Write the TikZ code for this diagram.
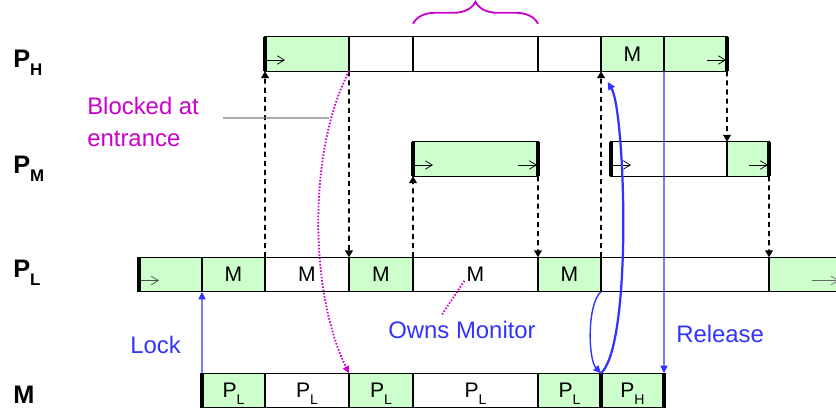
\documentclass[tikz,border=0pt]{standalone}
\usepackage{fontspec}
\setmainfont{Liberation Sans}
\usetikzlibrary{arrows.meta, positioning, calc, decorations.pathreplacing}
\definecolor{busygreen}{HTML}{CCFFCC}
\definecolor{lockblue}{HTML}{3333FF}
\definecolor{notemag}{HTML}{CC00CC}
\tikzset{
  cell/.style     = {draw, line width=0.8pt, outer sep=0pt, inner sep=0pt,
                     minimum height=0.86cm, text depth=0pt,
                     font=\fontsize{15}{15}\selectfont},
  span/.style     = {minimum width=#1*0.025cm},
  busy/.style     = {fill=busygreen},
  bar/.style      = {line width=2.2pt, line cap=butt},
  runtick/.style  = {-{Straight Barb[length=5pt,width=6pt]}, line width=0.5pt},
  wake/.style     = {-{Triangle[length=5pt,width=5.5pt]}, line width=1.3pt,
                     dash pattern=on 3.6pt off 2.9pt},
  monitor/.style  = {-{Triangle[length=5.5pt,width=5pt]}, line width=1pt, lockblue},
  note/.style     = {notemag, line width=1.3pt, dash pattern=on 1.1pt off 1.2pt},
  lead/.style     = {black!50, line width=0.8pt},
  rowlabel/.style = {anchor=base west, inner sep=0pt,
                     font=\fontsize{18}{18}\selectfont\bfseries},
  caption/.style  = {inner sep=0pt, font=\fontsize{17}{22.7}\selectfont},
}
\newcommand{\rowsub}[1]{\raisebox{-5.7pt}{\fontsize{12}{12}\selectfont #1}}
\newcommand{\cellsub}[1]{\raisebox{-5pt}{\fontsize{10}{10}\selectfont #1}}

\begin{document}
\begin{tikzpicture}[x=0.025cm, y=-0.025cm]
    \useasboundingbox (0,0) rectangle (836,408);

    % --- row labels ---
    \node[rowlabel] (ph) at (13,67) {P\rowsub{H}};
    \node[rowlabel] (pm) at (13,173) {P\rowsub{M}};
    \node[rowlabel] (pl) at (13,277) {P\rowsub{L}};
    \node[rowlabel] (pk) at (13,403) {M};

    % --- high priority thread ---
    \node[cell, busy, span=84, anchor=west] (h1) at (265,54) {};
    \node[cell, span=64, right=0pt of h1] (h2) {};
    \node[cell, span=125, right=0pt of h2] (h3) {};
    \node[cell, span=63, right=0pt of h3] (h4) {};
    \node[cell, busy, span=63, right=0pt of h4] (h5) {M};
    \node[cell, busy, span=63, right=0pt of h5] (h6) {};

    % --- medium priority thread ---
    \node[cell, busy, span=125, anchor=west] (m1) at (413,159) {};
    \node[cell, span=116, anchor=west] (m2) at (611,159) {};
    \node[cell, busy, span=42, right=0pt of m2] (m3) {};

    % --- low priority thread ---
    \node[cell, busy, span=63, anchor=west] (l1) at (139,274.5) {};
    \node[cell, busy, span=63, right=0pt of l1] (l2) {M};
    \node[cell, span=84, right=0pt of l2] (l3) {M};
    \node[cell, busy, span=64, right=0pt of l3] (l4) {M};
    \node[cell, span=125, right=0pt of l4] (l5) {M};
    \node[cell, busy, span=63, right=0pt of l5] (l6) {M};
    \node[cell, span=168, right=0pt of l6] (l7) {};
    \node[cell, busy, span=71, right=0pt of l7] (l8) {};

    % --- monitor owner ---
    \node[cell, busy, span=63, anchor=west] (k1) at (202,390.5) {P\cellsub{L}};
    \node[cell, span=84, right=0pt of k1] (k2) {P\cellsub{L}};
    \node[cell, busy, span=64, right=0pt of k2] (k3) {P\cellsub{L}};
    \node[cell, span=125, right=0pt of k3] (k4) {P\cellsub{L}};
    \node[cell, busy, span=63, right=0pt of k4] (k5) {P\cellsub{L}};
    \node[cell, busy, span=63, right=0pt of k5] (k6) {P\cellsub{H}};

    % --- run arrows ---
    \draw[runtick] ($(h1.west)+(0,6)$) -- ++(20,0);
    \draw[runtick] ($(h6.east)+(-20,6)$) -- ++(19,0);
    \draw[runtick] ($(m1.west)+(0,6)$) -- ++(20,0);
    \draw[runtick] ($(m1.east)+(-20,6)$) -- ++(19,0);
    \draw[runtick] ($(m2.west)+(0,6)$) -- ++(20,0);
    \draw[runtick] ($(m3.east)+(-20,6)$) -- ++(19,0);
    \draw[runtick, black!70] ($(l1.west)+(0,6)$) -- ++(20,0);
    \draw[runtick, black!60] ($(l8.east)+(-28,6)$) -- ++(27,0);

    % --- preemption and resume ---
    \draw[wake] (l3.north west) -- (h1.south west);
    \draw[wake] (h2.south west) -- (l4.north west);
    \draw[wake] (l5.north west) -- (m1.south west);
    \draw[wake] (m1.south east) -- (l6.north west);
    \draw[wake] (l7.north west) -- (h5.south west);
    \draw[wake] (h6.south east) -- (m3.north west);
    \draw[wake] (m3.south east) -- (l8.north west);

    % --- start and end bars ---
    \draw[bar] (h1.north west) -- (h1.south west);
    \draw[bar] (h6.north east) -- (h6.south east);
    \draw[bar] (m1.north west) -- (m1.south west);
    \draw[bar] (m1.north east) -- (m1.south east);
    \draw[bar] (m2.north west) -- (m2.south west);
    \draw[bar] (m3.north east) -- (m3.south east);
    \draw[bar] (l1.north west) -- (l1.south west);
    \draw[bar] (k1.north west) -- (k1.south west);
    \draw[bar] (k5.north east) -- (k5.south east);
    \draw[bar] (k6.north east) -- (k6.south east);

    % --- lock, hand-over, release ---
    \draw[monitor] (k1.north west) -- (l2.south west);
    \node[caption, lockblue, anchor=base west] (lock) at (130,353) {Lock};
    \draw[monitor] (l6.south east) .. controls +(-14,12) and +(-13,-14) .. (k5.north east);
    \draw[monitor, line width=1.6pt, shorten >=9pt]
      (k6.north west) .. controls +(32,-30) and +(24,39) .. (h5.south west);
    \draw[monitor] (h6.south west) -- (k6.north east);
    \node[caption, lockblue, anchor=base west] (rel) at (676,342) {Release};

    % --- annotations ---
    \draw[notemag, line width=1.3pt, decorate, decoration={brace, amplitude=0.55cm}]
      ($(h3.north west)+(0,-13)$) -- ($(h3.north east)+(0,-13)$);
    \draw[note, -{Triangle[length=5pt,width=4.5pt]}]
      (h2.south west) .. controls +(-41,79) and +(-40,-82) .. (k3.north west);
    \node[caption, notemag, align=left, anchor=north west] (blk) at (87,97)
      {Blocked at\\entrance};
    \coordinate (blkptr) at (329,118);
    \draw[lead] ($(blk.east)+(24,-4)$) -- (blkptr);
    \node[caption, lockblue, anchor=base west] (own) at (388,338) {Owns Monitor};
    \coordinate (ownptr) at (465,280);
    \draw[note] ($(own.north)+(-20,-6)$) -- (ownptr);
\end{tikzpicture}
\end{document}
